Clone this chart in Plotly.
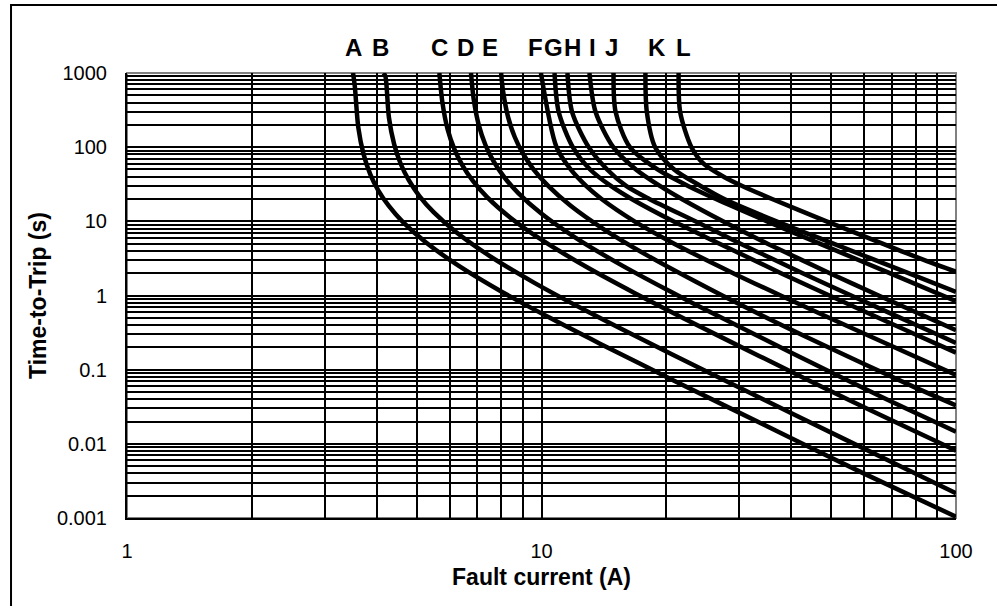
import math
import plotly.graph_objects as go

# ---- data ----
curve_labels = ["A", "B", "C", "D", "E", "F", "G", "H", "I", "J", "K", "L"]

A_current = [3.51, 3.545, 3.615, 3.721, 3.861, 4.037, 4.282, 4.633, 5.265, 6.318, 8.073, 10.53, 13.8, 21.06, 35.1, 59.67, 100]
A_time = [1000, 657, 183, 80.5, 43.4, 26.2, 16.1, 9.73, 5.17, 2.51, 1.10, 0.492, 0.226, 0.0694, 0.0171, 0.00403, 0.00104]

B_current = [4.16, 4.202, 4.285, 4.41, 4.576, 4.784, 5.075, 5.491, 6.24, 7.488, 9.568, 12.48, 16.35, 24.96, 41.6, 70.72, 100]
B_time = [1000, 898, 250, 110, 59.3, 35.9, 21.9, 13.3, 7.06, 3.43, 1.505, 0.672, 0.309, 0.0949, 0.0234, 0.0055, 0.00215]

C_current = [5.67, 5.767, 5.935, 6.159, 6.439, 6.831, 7.391, 8.399, 10.08, 12.88, 16.8, 22.0, 33.59, 55.99, 100]
C_time = [1000, 400, 175, 94.8, 57.3, 35.1, 21.2, 11.29, 5.48, 2.40, 1.074, 0.494, 0.152, 0.0374, 0.0081]

D_current = [6.76, 6.859, 7.059, 7.325, 7.658, 8.124, 8.79, 9.989, 11.99, 15.32, 19.98, 26.17, 39.95, 66.59, 100]
D_time = [1000, 451, 198, 107, 64.6, 39.6, 24.0, 12.73, 6.18, 2.71, 1.211, 0.557, 0.171, 0.0422, 0.0146]

E_current = [7.99, 8.075, 8.31, 8.624, 9.016, 9.565, 10.35, 11.76, 14.11, 18.03, 23.52, 30.81, 47.04, 78.4, 100]
E_time = [1000, 574, 252, 136, 82.3, 50.3, 30.5, 16.2, 7.87, 3.45, 1.542, 0.709, 0.225, 0.06, 0.033]

F_current = [9.968, 10.87, 11.76, 12.81, 13.96, 16.76, 20.9, 29.0, 37.75, 60.5, 100]
F_time = [1000, 100, 50, 30, 20, 10, 5, 2, 1, 0.3, 0.085]

G_current = [10.75, 11.0, 11.9, 13.1, 14.7, 16.5, 20.8, 26.88, 37.83, 49.5, 79.6, 100]
G_time = [1000, 300, 100, 50, 30, 20, 10, 5, 2, 1, 0.3, 0.17]

H_current = [11.55, 11.85, 13.0, 14.4, 16.0, 18.2, 23.5, 30.22, 42.65, 55.86, 89.9, 100]
H_time = [1000, 300, 100, 50, 30, 20, 10, 5, 2, 1, 0.3, 0.23]

I_current = [13.05, 13.5, 14.9, 16.9, 19.3, 21.8, 27.4, 35.1, 49.6, 65.05, 100]
I_time = [1000, 300, 100, 50, 30, 20, 10, 5, 2, 1, 0.34]

J_current = [14.92, 15.09, 16.34, 19.05, 22.57, 26.35, 35.0, 46.9, 69.2, 100]
J_time = [1000, 300, 100, 50, 30, 20, 10, 5, 2, 0.84]

K_current = [17.81, 17.95, 18.8, 20.9, 24.2, 27.6, 36.9, 50.6, 76.8, 100]
K_time = [1000, 300, 100, 50, 30, 20, 10, 5, 2, 1.12]

L_current = [21.42, 21.6, 23.0, 24.6, 27.5, 30.5, 36.0, 48.7, 66.5, 83.9, 100]
L_time = [1000, 300, 100, 60, 40, 30, 20, 10, 5, 3, 2.09]

x_tickvals = [1, 2, 3, 4, 5, 6, 7, 8, 9, 10, 20, 30, 40, 50, 60, 70, 80, 90, 100]
x_ticktext = ["1", "", "", "", "", "", "", "", "", "10", "", "", "", "", "", "", "", "", "100"]
y_decades = [0.001, 0.01, 0.1, 1, 10, 100]
y_decade_labels = ["0.001", "0.01", "0.1", "1", "10", "100"]
y_top, y_top_label = 1000, "1000"

x_title = "Fault current (A)"
y_title = "Time-to-Trip (s)"

curves = [
    (A_current, A_time), (B_current, B_time), (C_current, C_time), (D_current, D_time),
    (E_current, E_time), (F_current, F_time), (G_current, G_time), (H_current, H_time),
    (I_current, I_time), (J_current, J_time), (K_current, K_time), (L_current, L_time),
]

# label anchor positions (layout, in amperes along the top of the plot)
label_pos = [3.51, 4.08, 5.69, 6.54, 7.51, 9.65, 10.66, 11.85, 13.31, 14.79, 19.0, 21.95]

y_tickvals, y_ticktext = [], []
for dec, lab in zip(y_decades, y_decade_labels):
    for m in range(1, 10):
        y_tickvals.append(dec * m)
        y_ticktext.append(lab if m == 1 else "")
y_tickvals.append(y_top)
y_ticktext.append(y_top_label)

font_main = "Liberation Sans, Arial, sans-serif"

# ---- figure ----
fig = go.Figure()
for lab, (cx, ct), lx in zip(curve_labels, curves, label_pos):
    fig.add_trace(go.Scatter(
        x=cx, y=ct, mode="lines", name=lab,
        line=dict(color="black", width=4.5, shape="spline", smoothing=0.8),
        cliponaxis=True, hoverinfo="x+y+name",
    ))
    fig.add_annotation(
        x=math.log10(lx), xref="x", y=1.058, yref="paper",
        text="<b>%s</b>" % lab, showarrow=False, xanchor="center", yanchor="middle",
        font=dict(family=font_main, size=24, color="black"),
    )

fig.update_layout(
    width=997, height=606,
    margin=dict(l=127, r=41, t=73, b=88),
    paper_bgcolor="white", plot_bgcolor="white",
    showlegend=False,
    font=dict(family=font_main, size=20, color="black"),
    xaxis=dict(
        type="log", range=[0, 2],
        tickvals=x_tickvals, ticktext=x_ticktext,
        showgrid=True, gridcolor="black", gridwidth=1.5,
        showline=True, linecolor="black", linewidth=2,
        ticks="", ticklabelstandoff=14,
        tickfont=dict(size=20, family=font_main),
        title=dict(text="<b>%s</b>" % x_title, font=dict(size=23, family=font_main), standoff=8),
        zeroline=False,
    ),
    yaxis=dict(
        type="log", range=[-3, 3],
        tickvals=y_tickvals, ticktext=y_ticktext,
        showgrid=True, gridcolor="black", gridwidth=1.5,
        showline=True, linecolor="black", linewidth=2,
        ticks="", ticklabelstandoff=14,
        tickfont=dict(size=20, family=font_main),
        title=dict(text="<b>%s</b>" % y_title, font=dict(size=23, family=font_main), standoff=4),
        zeroline=False,
    ),
    shapes=[
        dict(type="rect", xref="paper", yref="paper", x0=0, x1=1, y0=0, y1=1,
             line=dict(color="#808080", width=2), layer="below"),
        dict(type="rect", xref="paper", yref="paper", x0=-0.1399, x1=1.06, y0=-0.21, y1=1.1528,
             line=dict(color="black", width=2), layer="above"),
    ],
)

fig.write_html(
    "out.html",
    config={"displayModeBar": False},
    post_script="document.body.style.margin='0px';document.body.style.overflow='hidden';",
)
